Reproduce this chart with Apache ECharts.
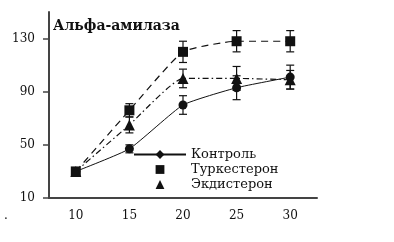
<!DOCTYPE html>
<html>
<head>
<meta charset="utf-8">
<script src="https://cdn.jsdelivr.net/npm/echarts@6/dist/echarts.min.js"></script>
<style>
  html, body { margin: 0; padding: 0; background: #fff; }
  #chart { width: 394px; height: 242px; }
</style>
</head>
<body>
<div id="chart"></div>
<script>
// дни (категории оси X)
var categories = ['10', '15', '20', '25', '30'];
var yTicks = [10, 50, 90, 130];

// значения и ошибки
var control = [30, 47, 80, 93, 101];
var controlErr = [2, 3, 7, 9, 9];
var turk = [30, 76, 120, 128, 128];
var turkErr = [2, 5, 8, 8, 8];
var ecdy = [30, 65, 100, 100, 99];
var ecdyErr = [2, 6, 7, 9, 7];

var FONT = 'DejaVu Serif';
var INK = '#111';

function errData(vals, errs) {
  return vals.map(function (v, i) { return [i, v - errs[i], v + errs[i]]; });
}

// усы ошибок
function renderErr(params, api) {
  var lo = api.coord([api.value(0), api.value(1)]);
  var hi = api.coord([api.value(0), api.value(2)]);
  var w = 4;
  var st = { stroke: INK, lineWidth: 1.2 };
  return {
    type: 'group',
    children: [
      { type: 'line', shape: { x1: lo[0], y1: lo[1], x2: hi[0], y2: hi[1] }, style: st },
      { type: 'line', shape: { x1: lo[0] - w, y1: lo[1], x2: lo[0] + w, y2: lo[1] }, style: st },
      { type: 'line', shape: { x1: hi[0] - w, y1: hi[1], x2: hi[0] + w, y2: hi[1] }, style: st }
    ]
  };
}

function errSeries(vals, errs) {
  return {
    type: 'custom',
    renderItem: renderErr,
    data: errData(vals, errs),
    z: 1,
    silent: true
  };
}

var chart = echarts.init(document.getElementById('chart'), null, { renderer: 'canvas' });

chart.setOption({
  animation: false,
  backgroundColor: '#fff',
  title: {
    text: 'Альфа-амилаза',
    left: 53,
    top: 19,
    padding: 0,
    textStyle: { fontFamily: FONT, fontSize: 14, fontWeight: 'bold', color: INK }
  },
  legend: {
    orient: 'vertical',
    left: 133,
    top: 148,
    padding: 0,
    itemWidth: 52,
    itemHeight: 11,
    itemGap: 2,
    textStyle: { fontFamily: FONT, fontSize: 13, color: INK },
    data: [
      { name: 'Контроль' },
      { name: 'Туркестерон', lineStyle: { opacity: 0, width: 0 } },
      { name: 'Экдистерон', lineStyle: { opacity: 0, width: 0 } }
    ]
  },
  grid: { left: 49, right: 77, top: 12, bottom: 44 },
  xAxis: {
    type: 'category',
    data: categories,
    boundaryGap: true,
    axisLine: { lineStyle: { color: '#444', width: 2 } },
    axisTick: { inside: false, length: 4, lineStyle: { color: '#444', width: 1.5 } },
    axisLabel: { margin: 12, fontFamily: FONT, fontSize: 12, color: INK },
    splitLine: { show: false }
  },
  yAxis: {
    type: 'value',
    min: 10,
    max: 150,
    interval: 40,
    axisLine: { show: true, lineStyle: { color: '#444', width: 2 } },
    axisTick: { show: true, length: 6, customValues: yTicks, lineStyle: { color: '#444', width: 1.5 } },
    axisLabel: { margin: 14, customValues: yTicks, fontFamily: FONT, fontSize: 12, color: INK },
    splitLine: { show: false }
  },
  graphic: [
    { type: 'text', left: 4, top: 210, style: { text: '.', fontFamily: FONT, fontSize: 12, fill: INK } }
  ],
  series: [
    errSeries(control, controlErr),
    errSeries(turk, turkErr),
    errSeries(ecdy, ecdyErr),
    {
      name: 'Контроль',
      type: 'line',
      smooth: 0.15,
      symbol: 'diamond',
      symbolSize: 9,
      data: control.map(function (v) { return { value: v, symbol: 'circle' }; }),
      lineStyle: { color: INK, width: 1 },
      itemStyle: { color: INK },
      z: 3
    },
    {
      name: 'Туркестерон',
      type: 'line',
      smooth: 0.15,
      symbol: 'rect',
      symbolSize: 10,
      data: turk,
      lineStyle: { color: INK, width: 1.2, type: [7, 5] },
      itemStyle: { color: INK },
      z: 3
    },
    {
      name: 'Экдистерон',
      type: 'line',
      smooth: 0.15,
      symbol: 'triangle',
      symbolSize: 11,
      data: ecdy,
      lineStyle: { color: INK, width: 1.2, type: [6, 3, 1.5, 3] },
      itemStyle: { color: INK },
      z: 3
    }
  ]
});
</script>
</body>
</html>
